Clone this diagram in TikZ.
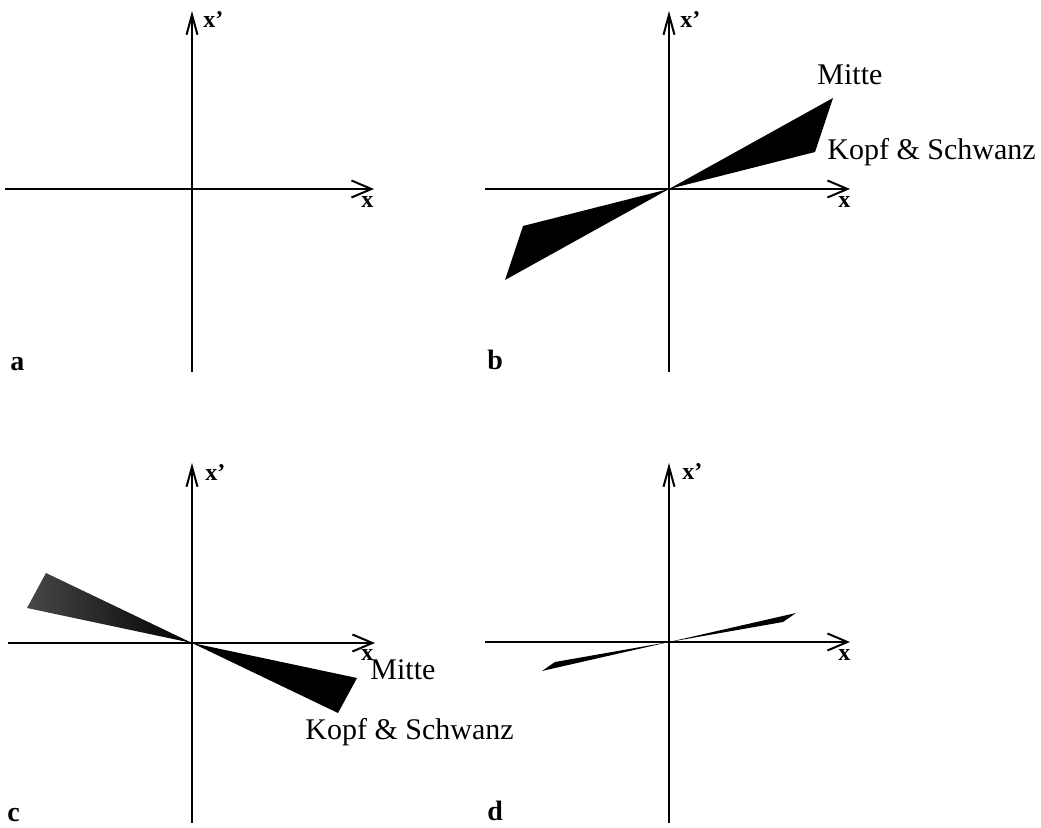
\documentclass[tikz,border=0pt]{standalone}
\usepackage{fontspec}
\setmainfont{Liberation Serif}
\usetikzlibrary{arrows.meta}

\tikzset{
  haxis/.style={line width=1pt, -{Straight Barb[length=10pt,width=8.5pt,line width=1pt]}},
  vaxis/.style={line width=1pt, -{Straight Barb[length=10pt,width=5.5pt,line width=1pt]}},
  axlabel/.style={inner sep=0pt, anchor=base west, font=\fontsize{12}{14}\selectfont\bfseries},
  panellabel/.style={inner sep=0pt, anchor=base west, font=\fontsize{14}{16}\selectfont\bfseries},
  curvelabel/.style={inner sep=0pt, anchor=base west, font=\fontsize{15}{18}\selectfont},
  wedge/.style={fill=black},
}

\begin{document}
\begin{tikzpicture}[x=0.5pt,y=-0.5pt]
\useasboundingbox (0,0) rectangle (1041,828);

% a
\begin{scope}[shift={(192,189)}]
  \coordinate (aO) at (0,0);
  \coordinate (aW) at (-187,0);
  \coordinate (aE) at (182,0);
  \coordinate (aS) at (0,183);
  \coordinate (aN) at (0,-178);
  \draw[line width=1.4pt] (-130,0) -- (130,0);
  \draw[haxis] (aW) -- (aE);
  \draw[vaxis] (aS) -- (aN);
  \node[axlabel] (ax) at (169,19) {x};
  \node[axlabel] (axp) at (11,-161) {x'};
  \node[panellabel] (alab) at (-182,182) {a};
\end{scope}

% b
\begin{scope}[shift={(669,189)}]
  \coordinate (bO) at (0,0);
  \coordinate (bW) at (-184,0);
  \coordinate (bE) at (181,0);
  \coordinate (bS) at (0,183);
  \coordinate (bN) at (0,-178);
  \fill[wedge] (bO) -- (164,-91) -- (146,-37) -- cycle;
  \fill[wedge] (bO) -- (-164,91) -- (-146,37) -- cycle;
  \draw[haxis] (bW) -- (bE);
  \draw[vaxis] (bS) -- (bN);
  \node[axlabel] (bx) at (169,19) {x};
  \node[axlabel] (bxp) at (11,-161) {x'};
  \node[curvelabel] (bmitte) at (148,-104) {Mitte};
  \node[curvelabel] (bkopf) at (158,-29) {Kopf \& Schwanz};
  \node[panellabel] (blab) at (-182,181) {b};
\end{scope}

% c
\begin{scope}[shift={(192,643)}]
  \coordinate (cO) at (0,0);
  \coordinate (cW) at (-184,0);
  \coordinate (cE) at (183,0);
  \coordinate (cS) at (0,180);
  \coordinate (cN) at (0,-180);
  \shade[left color=black!72, right color=black] (cO) -- (-165,-35) -- (-146,-70) -- cycle;
  \fill[wedge] (cO) -- (165,35) -- (146,70) -- cycle;
  \draw[haxis] (cW) -- (cE);
  \draw[vaxis] (cS) -- (cN);
  \node[axlabel] (cx) at (169,18) {x};
  \node[axlabel] (cxp) at (13,-162) {x'};
  \node[curvelabel] (cmitte) at (178,37) {Mitte};
  \node[curvelabel] (ckopf) at (113,97) {Kopf \& Schwanz};
  \node[panellabel] (clab) at (-185,179) {c};
\end{scope}

% d
\begin{scope}[shift={(669,642)}]
  \coordinate (dO) at (0,0);
  \coordinate (dW) at (-184,0);
  \coordinate (dE) at (181,0);
  \coordinate (dS) at (0,181);
  \coordinate (dN) at (0,-179);
  \fill[wedge] (dO) -- (127,-29) -- (114,-20) -- cycle;
  \fill[wedge] (dO) -- (-127,29) -- (-114,20) -- cycle;
  \draw[haxis] (dW) -- (dE);
  \draw[vaxis] (dS) -- (dN);
  \node[axlabel] (dx) at (169,19) {x};
  \node[axlabel] (dxp) at (13,-162) {x'};
  \node[panellabel] (dlab) at (-182,179) {d};
\end{scope}
\end{tikzpicture}
\end{document}
